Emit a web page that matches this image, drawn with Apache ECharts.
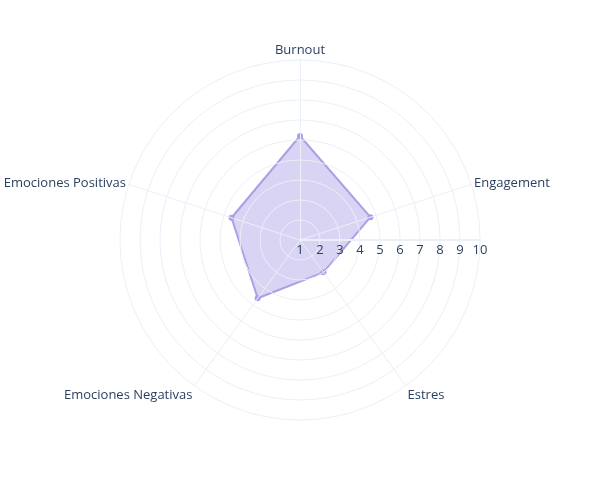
<!DOCTYPE html>
<html>
<head>
<meta charset="utf-8">
<script src="https://cdn.jsdelivr.net/npm/echarts@6/dist/echarts.min.js"></script>
<style>html,body{margin:0;padding:0;background:#fff}#c{width:600px;height:500px}</style>
</head>
<body>
<div id="c"></div>
<script>
const categories = ['Burnout', 'Engagement', 'Estres', 'Emociones Negativas', 'Emociones Positivas'];
const values = [6.2, 4.7, 3.0, 4.6, 4.6];
const radialTicks = [1, 2, 3, 4, 5, 6, 7, 8, 9, 10];

const rMin = radialTicks[0], rMax = radialTicks[radialTicks.length - 1];
// Reference goes clockwise from top; ECharts radar goes counter-clockwise, so reorder.
const order = [0].concat(categories.map((_, i) => i).slice(1).reverse());
const indicators = order.map(i => ({ name: categories[i], min: rMin, max: rMax }));
const radarValues = order.map(i => values[i]);
// names that sit in the lower part of the circle get pushed down a little
const lowerNames = categories.filter((_, i) => Math.sin((90 - i * 360 / categories.length) * Math.PI / 180) < -0.5);

const gridColor = '#ebf0f8';
const textColor = '#2a3f5f';
const font = '"Open Sans", "Liberation Sans", sans-serif';
const lineColor = '#aba0e5';

const chart = echarts.init(document.getElementById('c'), null, { renderer: 'canvas' });
chart.setOption({
  animation: false,
  backgroundColor: '#fff',
  textStyle: { fontFamily: font, color: textColor, fontSize: 13 },
  polar: { center: [300, 240], radius: 180 },
  angleAxis: {
    type: 'value', min: 0, max: 360, startAngle: 0, clockwise: false, z: 10,
    axisLine: { show: false }, axisTick: { show: false }, axisLabel: { show: false },
    splitLine: { show: false }
  },
  radiusAxis: {
    type: 'value', min: rMin, max: rMax, interval: 1, z: 10,
    axisLine: { show: true, lineStyle: { color: gridColor, width: 2 } },
    axisTick: { show: false },
    axisLabel: { show: true, color: textColor, fontSize: 13, fontFamily: font,
      margin: -4, verticalAlign: 'top', align: 'center',
      formatter: v => radialTicks.includes(v) ? String(v) : '' },
    splitLine: { show: true, lineStyle: { color: gridColor, width: 1 } }
  },
  radar: {
    center: [300, 240], radius: 180, shape: 'circle', startAngle: 90, z: 10,
    indicator: indicators,
    nameGap: 3,
    axisName: {
      color: textColor, fontSize: 13, fontFamily: font,
      formatter: name => lowerNames.includes(name) ? '{low|' + name + '}' : name,
      rich: { low: { color: textColor, fontSize: 13, fontFamily: font, padding: [14, 0, 0, 0] } }
    },
    axisLine: { lineStyle: { color: gridColor, width: 1 } },
    splitLine: { show: false },
    splitArea: { show: false },
    axisTick: { show: false },
    axisLabel: { show: false }
  },
  series: [{
    type: 'radar', z: 2,
    symbol: 'circle', symbolSize: 6,
    lineStyle: { color: lineColor, width: 2 },
    itemStyle: { color: lineColor },
    areaStyle: { color: lineColor, opacity: 0.45 },
    data: [{ value: radarValues }]
  }]
});
</script>
</body>
</html>
